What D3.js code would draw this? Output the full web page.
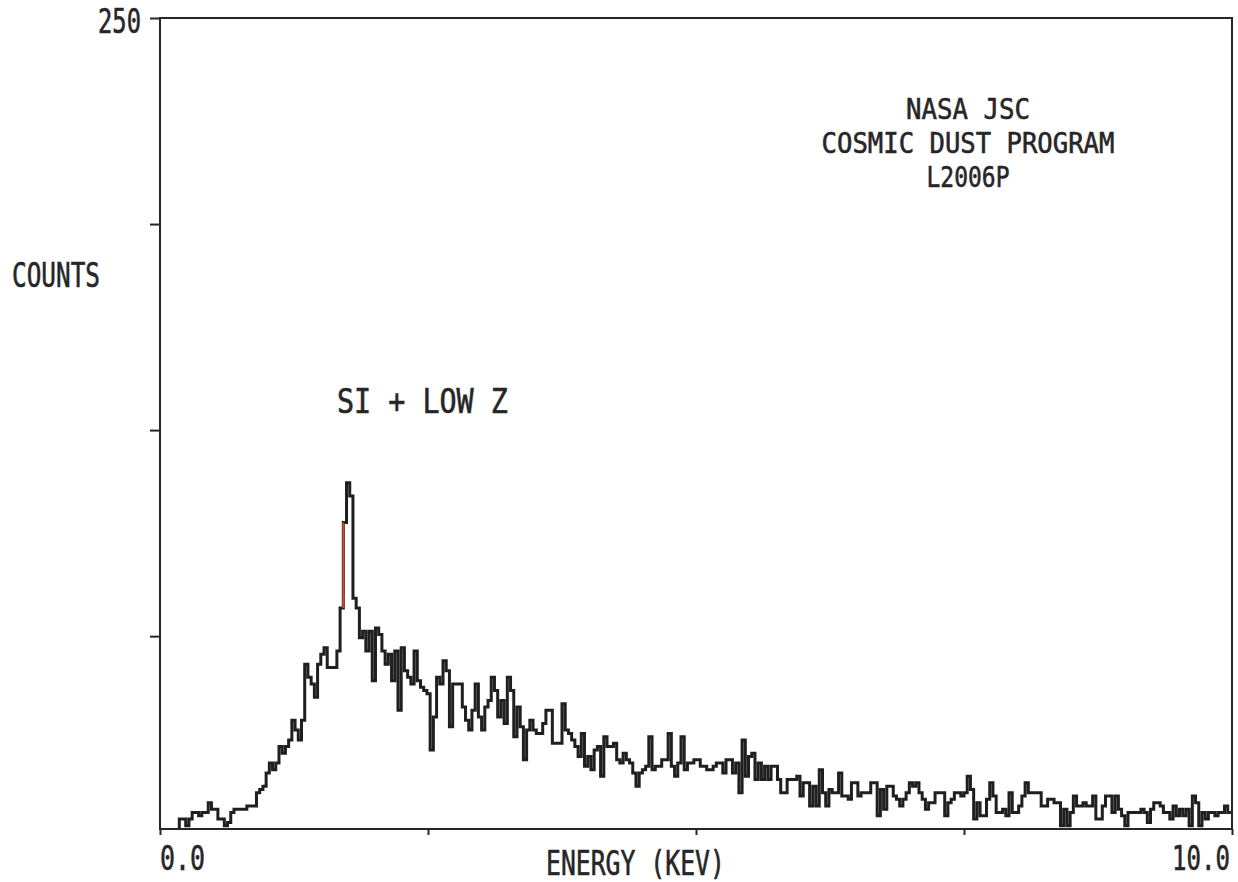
<!DOCTYPE html>
<html>
<head>
<meta charset="utf-8">
<script src="https://cdn.jsdelivr.net/npm/d3@7"></script>
<style>
  html, body { margin: 0; padding: 0; background: #ffffff; }
  svg { display: block; }
  text { font-family: "DejaVu Sans Mono", "Liberation Mono", monospace; fill: #262626; }
</style>
</head>
<body>
<svg id="chart" width="1238" height="882"></svg>
<script>
// ---------- data ----------
const channelStartKeV = 0.18;
const channelWidthKeV = 0.03;
const counts = [
  7, 7, 5, 7, 9, 9, 8, 9, 9, 12, 10, 10, 7, 7, 5, 6, 9, 10, 10, 10,
  10, 11, 11, 11, 15, 16, 17, 21, 24, 22, 24, 29, 27, 29, 31, 37, 34, 31, 37, 54,
  50, 48, 44, 54, 57, 59, 53, 53, 53, 58, 71, 97, 109, 105, 74, 71, 62, 64, 58, 64,
  49, 65, 63, 58, 54, 57, 49, 58, 40, 59, 52, 50, 48, 58, 49, 47, 46, 45, 28, 38,
  50, 48, 55, 52, 35, 48, 48, 48, 41, 37, 34, 40, 48, 38, 34, 41, 43, 50, 46, 38,
  43, 36, 50, 46, 32, 41, 35, 25, 34, 37, 34, 33, 33, 36, 40, 40, 30, 30, 30, 42,
  34, 33, 31, 29, 26, 33, 23, 26, 22, 28, 29, 20, 32, 29, 29, 30, 25, 24, 27, 25,
  24, 21, 17, 21, 22, 23, 32, 22, 23, 23, 25, 25, 33, 23, 20, 24, 32, 22, 24, 24,
  25, 25, 23, 23, 22, 22, 23, 24, 24, 21, 25, 25, 21, 24, 15, 31, 20, 26, 27, 19,
  24, 19, 23, 19, 23, 23, 19, 15, 15, 19, 19, 19, 20, 14, 18, 18, 11, 17, 11, 22,
  15, 11, 16, 15, 15, 21, 14, 14, 13, 18, 18, 14, 15, 15, 15, 18, 18, 8, 16, 10,
  17, 17, 14, 13, 11, 13, 15, 18, 17, 18, 15, 13, 10, 12, 12, 15, 15, 15, 8, 12,
  13, 15, 15, 14, 15, 20, 16, 7, 12, 8, 8, 13, 18, 14, 9, 9, 10, 8, 15, 9,
  9, 11, 14, 18, 15, 15, 15, 15, 11, 11, 13, 13, 12, 12, 5, 10, 5, 9, 14, 11,
  11, 12, 11, 11, 14, 7, 7, 11, 14, 14, 9, 14, 10, 8, 5, 9, 9, 9, 9, 10,
  9, 6, 10, 12, 12, 11, 9, 9, 7, 11, 8, 10, 8, 10, 5, 14, 12, 5, 9, 7,
  9, 9, 8, 9, 9, 11, 9
];
const highlightChannel = 51;           // rising edge drawn in red (as in the scan)
const yDomain = [4, 250];
const xDomain = [0, 10];
const yTickValues = [62.5, 125, 187.5, 250];
const yTickLabels = {250: "250"};
const xTickValues = [0, 2.5, 5, 7.5, 10];
const xTickLabels = {0: "0.0", 10: "10.0"};
const titleLines = ["NASA JSC", "COSMIC DUST PROGRAM", "L2006P"];
const peakLabel = "SI + LOW Z";
const yAxisTitle = "COUNTS";
const xAxisTitle = "ENERGY (KEV)";

// ---------- layout ----------
const plot = {left: 160, right: 1232, top: 18, bottom: 829};
const ink = "#262626";
const fontSize = 33;
const titleFontSize = 29;
const svg = d3.select("#chart");

const x = d3.scaleLinear().domain(xDomain).range([plot.left, plot.right]);
const y = d3.scaleLinear().domain(yDomain).range([plot.bottom, plot.top]);

// frame
svg.append("rect")
  .attr("x", plot.left).attr("y", plot.top)
  .attr("width", plot.right - plot.left).attr("height", plot.bottom - plot.top)
  .attr("fill", "none").attr("stroke", ink).attr("stroke-width", 2);

// condensed plotter-style text: natural glyphs squeezed horizontally to a target width
function label(txt, px, py, width, anchor, size) {
  const t = svg.append("text")
    .attr("text-anchor", anchor)
    .attr("font-size", size || fontSize)
    .attr("fill", ink).attr("stroke", ink).attr("stroke-width", 0.6)
    .text(txt);
  const natural = t.node().getComputedTextLength();
  const sx = width / natural;
  t.attr("transform", `translate(${px},${py}) scale(${sx},1)`);
  return t;
}

// y axis (ticks pointing outward)
const yAxis = d3.axisLeft(y).tickValues(yTickValues).tickSize(10).tickSizeOuter(0).tickFormat("");
const gy = svg.append("g").attr("transform", `translate(${plot.left},0)`).call(yAxis);
gy.select(".domain").remove();
gy.selectAll(".tick line").attr("stroke", ink).attr("stroke-width", 2);
yTickValues.filter(v => yTickLabels[v]).forEach(v =>
  label(yTickLabels[v], plot.left - 19, y(v) + 15, 43, "end"));

// x axis
const xAxis = d3.axisBottom(x).tickValues(xTickValues).tickSize(6).tickSizeOuter(0).tickFormat("");
const gx = svg.append("g").attr("transform", `translate(0,${plot.bottom})`).call(xAxis);
gx.select(".domain").remove();
gx.selectAll(".tick line").attr("stroke", ink).attr("stroke-width", 2);
label(xTickLabels[xDomain[0]], x(xDomain[0]), plot.bottom + 41, 45, "start");
label(xTickLabels[xDomain[1]], x(xDomain[1]) - 2, plot.bottom + 41, 58, "end");

// titles
label(yAxisTitle, 12, 287, 88, "start");
label(xAxisTitle, 546, 875, 179, "start");
const titleWidths = [124, 293, 83];
const titleY = [119, 153, 187];
titleLines.forEach((t, i) => label(t, 968, titleY[i], titleWidths[i], "middle", titleFontSize));
label(peakLabel, 337, 413, 171, "start");

// spectrum (histogram step line)
const pts = [{e: channelStartKeV, c: yDomain[0]}];
counts.forEach((c, i) => pts.push({e: channelStartKeV + i * channelWidthKeV, c}));
pts.push({e: channelStartKeV + counts.length * channelWidthKeV, c: counts[counts.length - 1]});

const line = d3.line().x(d => x(d.e)).y(d => y(Math.max(d.c, yDomain[0]))).curve(d3.curveStepAfter);
svg.append("path").datum(pts)
  .attr("d", line)
  .attr("fill", "none").attr("stroke", "#1f1f1f").attr("stroke-width", 3)
  .attr("stroke-linejoin", "miter");

// red rising edge of the peak channel
const eh = channelStartKeV + highlightChannel * channelWidthKeV;
svg.append("line")
  .attr("x1", x(eh)).attr("x2", x(eh))
  .attr("y1", y(counts[highlightChannel - 1])).attr("y2", y(counts[highlightChannel]))
  .attr("stroke", "#cc4a35").attr("stroke-width", 2);
</script>
</body>
</html>
